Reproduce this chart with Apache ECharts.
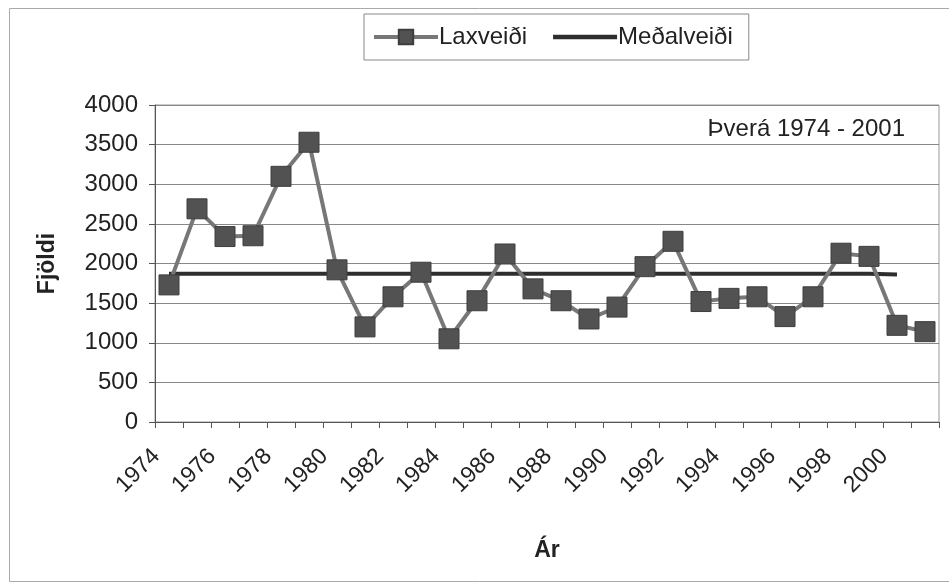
<!DOCTYPE html>
<html>
<head>
<meta charset="utf-8">
<script src="https://cdn.jsdelivr.net/npm/echarts@6/dist/echarts.min.js"></script>
<style>
  html, body { margin: 0; padding: 0; background: #fff; }
  #chart { width: 949px; height: 582px; }
</style>
</head>
<body>
<div id="chart"></div>
<script>
// ár 1974 - 2001
const years = [
  "1974", "1975", "1976", "1977", "1978", "1979", "1980", "1981", "1982", "1983",
  "1984", "1985", "1986", "1987", "1988", "1989", "1990", "1991", "1992", "1993",
  "1994", "1995", "1996", "1997", "1998", "1999", "2000", "2001",
];
// laxveiði
const laxveidi = [
  1730, 2690, 2340, 2350, 3100, 3530, 1920, 1200, 1580, 1890,
  1050, 1530, 2120, 1680, 1530, 1300, 1450, 1960, 2280, 1520,
  1560, 1580, 1330, 1580, 2130, 2090, 1220, 1140,
];
// meðalveiði line stops at 2000
const medalveidi = [
  1870, 1870, 1870, 1870, 1870, 1870, 1870, 1870, 1870, 1870,
  1870, 1870, 1870, 1870, 1870, 1870, 1870, 1870, 1870, 1870,
  1870, 1870, 1870, 1870, 1870, 1870, 1860, null,
];
const yTicks = { min: 0, max: 4000, step: 500 };

const chart = echarts.init(document.getElementById("chart"));
const font = "Liberation Sans, Arial, sans-serif";

const option = {
  backgroundColor: "#fff",
  animation: false,
  textStyle: { fontFamily: font, color: "#222" },
  graphic: [
    {
      type: "rect",
      left: 7,
      top: 6,
      shape: { width: 960, height: 573 },
      style: { fill: "none", stroke: "#aaa", lineWidth: 1 },
      silent: true,
    },
    {
      type: "text",
      right: 44,
      top: 117,
      style: { text: "Þverá 1974 - 2001", font: "24px " + font, fill: "#222" },
    },
  ],
  legend: {
    top: 14,
    left: 364,
    itemWidth: 64,
    itemHeight: 18,
    itemGap: 26,
    symbolKeepAspect: true,
    padding: [11, 16, 11, 8],
    borderColor: "#888",
    borderWidth: 1,
    lineStyle: { width: 4 },
    textStyle: { fontSize: 24, color: "#222", fontFamily: font, padding: [0, 0, 0, -4] },
    data: [
      { name: "Laxveiði" },
      { name: "Meðalveiði", icon: "path://M0,0L60,0L60,4L0,4Z" },
    ],
  },
  grid: { left: 155, right: 10, top: 105, bottom: 160, show: true, borderColor: "#999", borderWidth: 1 },
  xAxis: {
    type: "category",
    data: years,
    boundaryGap: true,
    name: "Ár",
    nameLocation: "middle",
    nameGap: 117,
    nameTextStyle: { fontSize: 23, fontWeight: "bold", color: "#222" },
    axisLine: { lineStyle: { color: "#555", width: 1 } },
    axisTick: { show: true, inside: false, length: 6, interval: 0, lineStyle: { color: "#555" } },
    axisLabel: { interval: 1, rotate: 45, fontSize: 23, color: "#222", margin: 18, padding: [0, 18, 0, 0] },
    splitLine: { show: false },
  },
  yAxis: {
    type: "value",
    min: yTicks.min,
    max: yTicks.max,
    interval: yTicks.step,
    name: "Fjöldi",
    nameLocation: "middle",
    nameGap: 96,
    nameTextStyle: { fontSize: 23, fontWeight: "bold", color: "#222" },
    axisLine: { show: true, lineStyle: { color: "#555", width: 1 } },
    axisTick: { show: true, length: 6, lineStyle: { color: "#555" } },
    axisLabel: { fontSize: 24, color: "#222", margin: 17, formatter: (v) => String(v) },
    splitLine: { lineStyle: { color: "#888", width: 1 } },
  },
  series: [
    {
      name: "Laxveiði",
      type: "line",
      data: laxveidi,
      symbol: "rect",
      symbolSize: 20,
      showAllSymbol: true,
      z: 3,
      lineStyle: { color: "#777", width: 4 },
      itemStyle: { color: "#525252", borderColor: "#3e3e3e", borderWidth: 1 },
    },
    {
      name: "Meðalveiði",
      type: "line",
      data: medalveidi,
      showSymbol: false,
      symbol: "none",
      z: 2,
      lineStyle: { color: "#2e2e2e", width: 4 },
      itemStyle: { color: "#2e2e2e" },
    },
  ],
};

chart.setOption(option);
</script>
</body>
</html>
